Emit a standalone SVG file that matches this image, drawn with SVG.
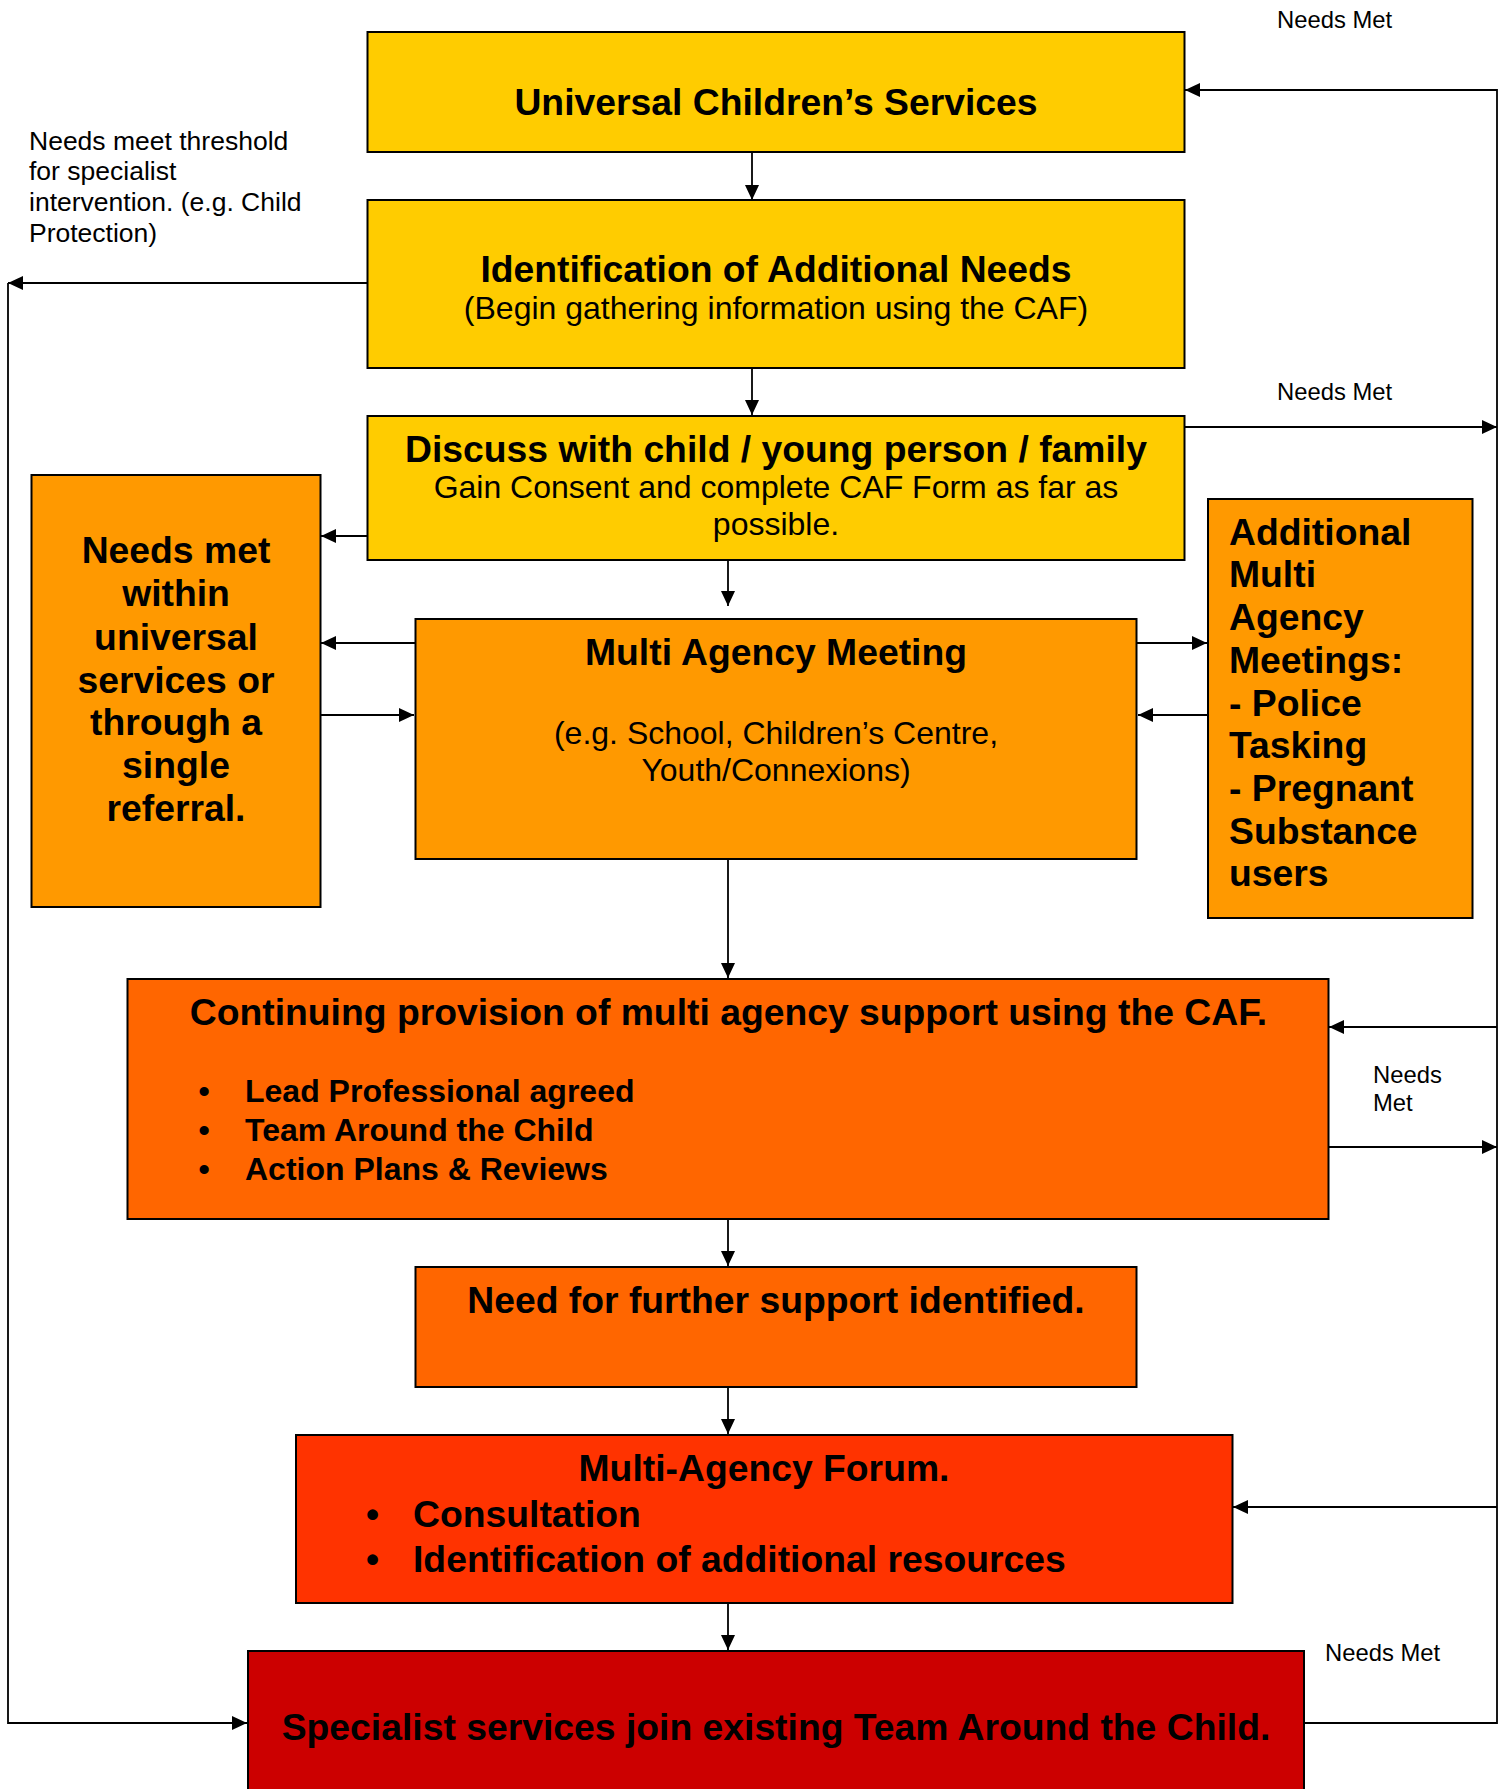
<svg xmlns="http://www.w3.org/2000/svg" width="1503" height="1789" viewBox="0 0 1503 1789">
<style>
  .box { stroke: #000; stroke-width: 2; }
  .y { fill: #FFCC00; }
  .o { fill: #FF9900; }
  .o2 { fill: #FF6600; }
  .r1 { fill: #FF3300; }
  .r2 { fill: #CC0000; }
  text { font-family: "Liberation Sans", Arial, sans-serif; fill: #000; }
  .t { font-size: 37.3px; font-weight: bold; }
  .b { font-size: 32px; font-weight: bold; }
  .n { font-size: 32px; }
  .s { font-size: 26.5px; }
  .lbl { font-size: 23.8px; }
  .c { text-anchor: middle; }
  .line { fill: none; stroke: #000; stroke-width: 1.8; }
</style>
<defs>
  <marker id="ah" markerUnits="userSpaceOnUse" markerWidth="15" markerHeight="14" refX="15" refY="7" orient="auto">
    <path d="M0,0 L15,7 L0,14 z" fill="#000"/>
  </marker>
</defs>

<g id="connectors">
  <path class="line" d="M752,152 V200" marker-end="url(#ah)"/>
  <path class="line" d="M752,368 V415" marker-end="url(#ah)"/>
  <path class="line" d="M728,560 V606" marker-end="url(#ah)"/>
  <path class="line" d="M367,536 H321" marker-end="url(#ah)"/>
  <path class="line" d="M415,643 H321" marker-end="url(#ah)"/>
  <path class="line" d="M320,715 H414" marker-end="url(#ah)"/>
  <path class="line" d="M1137,643 H1207" marker-end="url(#ah)"/>
  <path class="line" d="M1208,715 H1138" marker-end="url(#ah)"/>
  <path class="line" d="M728,859 V978" marker-end="url(#ah)"/>
  <path class="line" d="M728,1219 V1266" marker-end="url(#ah)"/>
  <path class="line" d="M728,1387 V1434" marker-end="url(#ah)"/>
  <path class="line" d="M728,1603 V1650" marker-end="url(#ah)"/>
  <path class="line" d="M1304,1723 H1497 V90 H1185" marker-end="url(#ah)"/>
  <path class="line" d="M1184,427 H1497" marker-end="url(#ah)"/>
  <path class="line" d="M1497,1027 H1329" marker-end="url(#ah)"/>
  <path class="line" d="M1328,1147 H1497" marker-end="url(#ah)"/>
  <path class="line" d="M1497,1507 H1233" marker-end="url(#ah)"/>
  <path class="line" d="M367,283 H8" marker-end="url(#ah)"/>
  <path class="line" d="M8,283 V1723 H247" marker-end="url(#ah)"/>
</g>

<g id="universal">
  <rect class="box y" x="367.5" y="32" width="817" height="120"/>
  <text class="t c" x="776" y="115">Universal Children’s Services</text>
</g>

<g id="identification">
  <rect class="box y" x="367.5" y="200" width="817" height="168"/>
  <text class="t c" x="776" y="282">Identification of Additional Needs</text>
  <text class="n c" x="776" y="319">(Begin gathering information using the CAF)</text>
</g>

<g id="discuss">
  <rect class="box y" x="367.5" y="416" width="817" height="144"/>
  <text class="t c" x="776" y="462">Discuss with child / young person / family</text>
  <text class="n c" x="776" y="498">Gain Consent and complete CAF Form as far as</text>
  <text class="n c" x="776" y="535">possible.</text>
</g>

<g id="needs-met-left">
  <rect class="box o" x="31.5" y="475" width="289" height="432"/>
  <text class="t c" x="176" y="563">Needs met</text>
  <text class="t c" x="176" y="606">within</text>
  <text class="t c" x="176" y="650">universal</text>
  <text class="t c" x="176" y="693">services or</text>
  <text class="t c" x="176" y="735">through a</text>
  <text class="t c" x="176" y="778">single</text>
  <text class="t c" x="176" y="821">referral.</text>
</g>

<g id="multi-agency-meeting">
  <rect class="box o" x="415.5" y="619" width="721" height="240"/>
  <text class="t c" x="776" y="665">Multi Agency Meeting</text>
  <text class="n c" x="776" y="744">(e.g. School, Children’s Centre,</text>
  <text class="n c" x="776" y="781">Youth/Connexions)</text>
</g>

<g id="additional-meetings">
  <rect class="box o" x="1208" y="499" width="264.5" height="419"/>
  <text class="t" x="1229" y="545">Additional</text>
  <text class="t" x="1229" y="587">Multi</text>
  <text class="t" x="1229" y="630">Agency</text>
  <text class="t" x="1229" y="673">Meetings:</text>
  <text class="t" x="1229" y="716">- Police</text>
  <text class="t" x="1229" y="758">Tasking</text>
  <text class="t" x="1229" y="801">- Pregnant</text>
  <text class="t" x="1229" y="844">Substance</text>
  <text class="t" x="1229" y="886">users</text>
</g>

<g id="continuing">
  <rect class="box o2" x="127.5" y="979" width="1201" height="240"/>
  <text class="t c" x="728.5" y="1025">Continuing provision of multi agency support using the CAF.</text>
  <text class="b c" x="204" y="1102">•</text>
  <text class="b" x="245" y="1102">Lead Professional agreed</text>
  <text class="b c" x="204" y="1141">•</text>
  <text class="b" x="245" y="1141">Team Around the Child</text>
  <text class="b c" x="204" y="1180">•</text>
  <text class="b" x="245" y="1180">Action Plans &amp; Reviews</text>
</g>

<g id="further-support">
  <rect class="box o2" x="415.5" y="1267" width="721" height="120"/>
  <text class="t c" x="776" y="1313">Need for further support identified.</text>
</g>

<g id="forum">
  <rect class="box r1" x="296" y="1435" width="936.5" height="168"/>
  <text class="t c" x="764" y="1481">Multi-Agency Forum.</text>
  <text class="t c" x="372.5" y="1527">•</text>
  <text class="t" x="413" y="1527">Consultation</text>
  <text class="t c" x="372.5" y="1572">•</text>
  <text class="t" x="413" y="1572">Identification of additional resources</text>
</g>

<g id="specialist">
  <rect class="box r2" x="248" y="1651" width="1056" height="160"/>
  <text class="t c" x="776" y="1740">Specialist services join existing Team Around the Child.</text>
</g>

<g id="labels">
  <text class="lbl" x="1277" y="28">Needs Met</text>
  <text class="lbl" x="1277" y="400">Needs Met</text>
  <text class="lbl" x="1373" y="1083">Needs</text>
  <text class="lbl" x="1373" y="1111">Met</text>
  <text class="lbl" x="1325" y="1661">Needs Met</text>
  <text class="s" x="29" y="150">Needs meet threshold</text>
  <text class="s" x="29" y="180">for specialist</text>
  <text class="s" x="29" y="211">intervention. (e.g. Child</text>
  <text class="s" x="29" y="242">Protection)</text>
</g>
</svg>
